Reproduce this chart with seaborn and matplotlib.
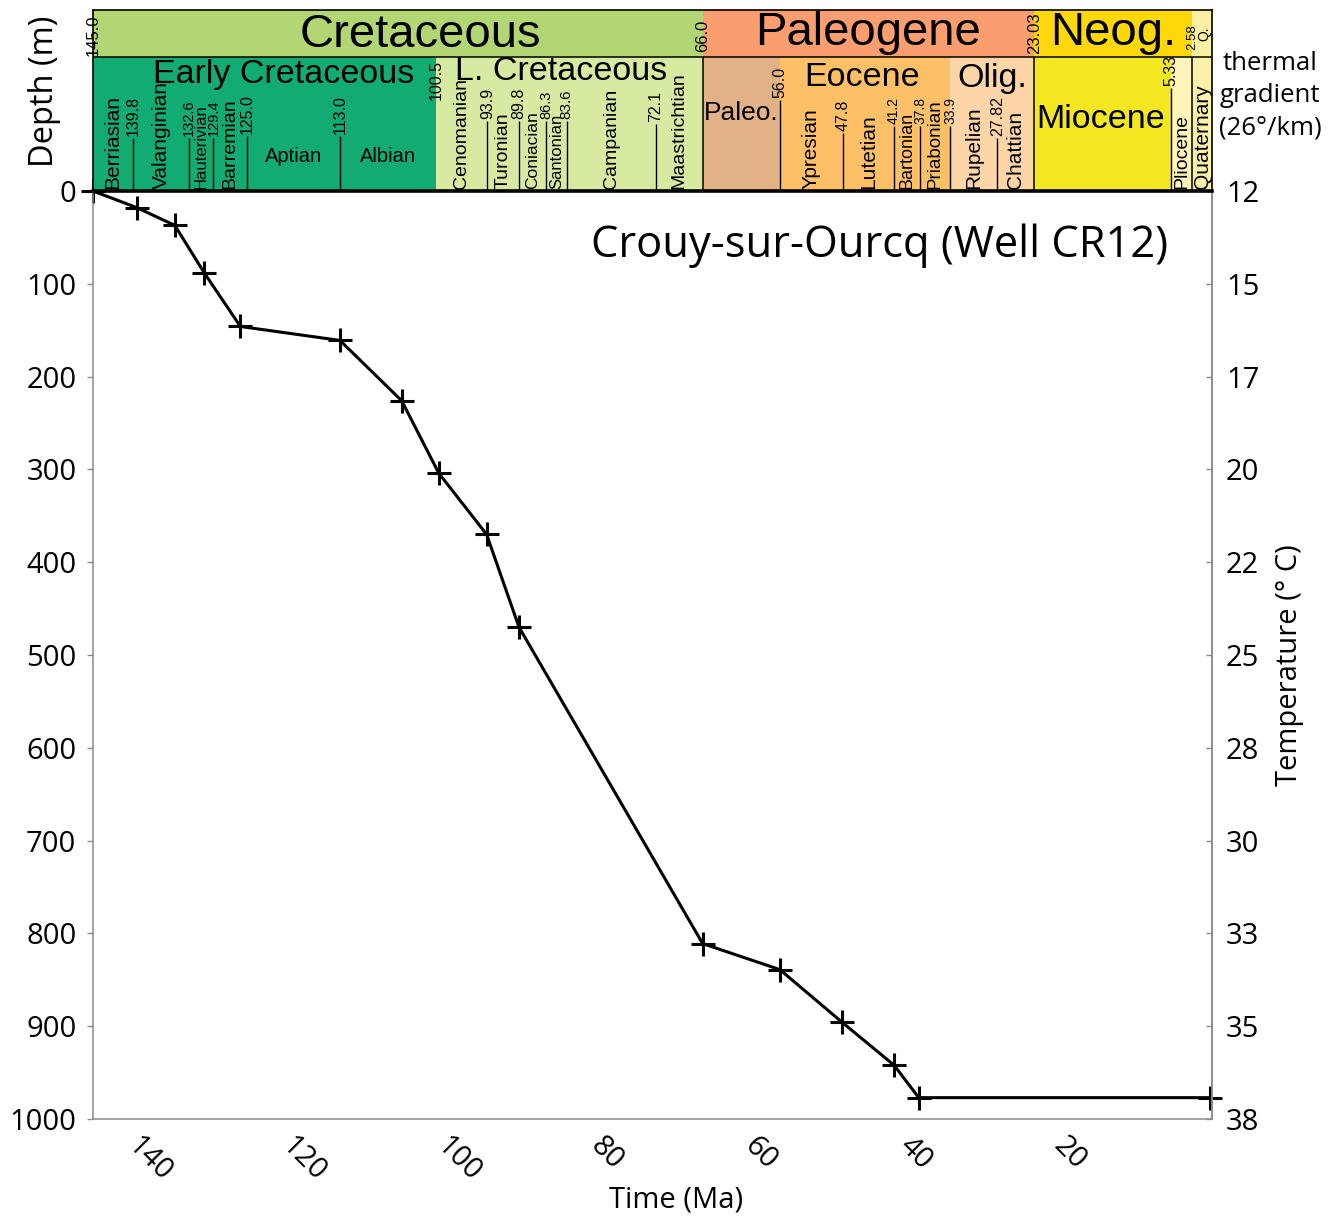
import numpy as np
import pandas as pd
import seaborn as sns
import matplotlib
matplotlib.use("Agg")
import matplotlib.pyplot as plt
import matplotlib.transforms as mtransforms

# ---------------- data ----------------
time_ma = [145.0, 139.3, 134.4, 130.6, 125.9, 113.0, 105.0, 100.2, 94.0, 89.8,
           66.0, 56.0, 47.9, 41.2, 38.0, 0.3]
depth_m = [0, 18, 37, 88, 146, 161, 226, 304, 370, 470,
           811, 839, 896, 942, 977, 977]

depth_ticks = [0, 100, 200, 300, 400, 500, 600, 700, 800, 900, 1000]
temp_labels = ["12", "15", "17", "20", "22", "25", "28", "30", "33", "35", "38"]
time_ticks = [140, 120, 100, 80, 60, 40, 20]

period_names = ["Cretaceous", "Paleogene", "Neog.", "Q."]
period_base = [145.0, 66.0, 23.03, 2.58]
period_end = [66.0, 23.03, 2.58, 0.0]
period_colors = ["#b3d674", "#fa9d6f", "#fed80a", "#faf0a4"]

epoch_names = ["Early Cretaceous", "L. Cretaceous", "Paleo.", "Eocene", "Olig.",
               "Miocene", "", ""]
epoch_base = [145.0, 100.5, 66.0, 56.0, 33.9, 23.03, 5.33, 2.58]
epoch_end = [100.5, 66.0, 56.0, 33.9, 23.03, 5.33, 2.58, 0.0]
epoch_colors = ["#12ab72", "#d7eaa2", "#e2b185", "#fdc067", "#fdd5a6",
                "#f3e722", "#fff5bb", "#fbf1a8"]

stage_names = ["Berriasian", "Valanginian", "Hauterivian", "Barremian", "Aptian",
               "Albian", "Cenomanian", "Turonian", "Coniacian", "Santonian",
               "Campanian", "Maastrichtian", "Ypresian", "Lutetian", "Bartonian",
               "Priabonian", "Rupelian", "Chattian", "Pliocene", "Quaternary"]
stage_base = [145.0, 139.8, 132.6, 129.4, 125.0, 113.0, 100.5, 93.9, 89.8, 86.3,
              83.6, 72.1, 56.0, 47.8, 41.2, 37.8, 33.9, 27.82, 5.33, 2.58]
stage_end = [139.8, 132.6, 129.4, 125.0, 113.0, 100.5, 93.9, 89.8, 86.3, 83.6,
             72.1, 66.0, 47.8, 41.2, 37.8, 33.9, 27.82, 23.03, 2.58, 0.0]

boundary_ages = [139.8, 132.6, 129.4, 125.0, 113.0, 100.5, 93.9, 89.8, 86.3, 83.6,
                 72.1, 56.0, 47.8, 41.2, 37.8, 33.9, 27.82, 5.33]
boundary_labels = ["139.8", "132.6", "129.4", "125.0", "113.0", "100.5", "93.9",
                   "89.8", "86.3", "83.6", "72.1", "56.0", "47.8", "41.2", "37.8",
                   "33.9", "27.82", "5.33"]
period_bound_ages = [145.0, 66.0, 23.03, 2.58]
period_bound_labels = ["145.0", "66.0", "23.03", "2.58"]

# ---------------- layout (pixels) / styles ----------------
W, H = 1336, 1216
AX_L, AX_R, AX_T, AX_B = 93, 1212, 191, 1119
HD_T = 10
ROW = 57

def hy(px):
    return (AX_T - px) / (AX_T - HD_T)

line_top_px = [138, 138, 138, 136, 136, 102, 121, 121, 121, 121,
               124, 100, 133, 126, 126, 126, 138, 88]
num_size = [11.5, 10.5, 10.5, 11.5, 11.5, 11.5, 11.5, 11.5, 10.5, 11,
            11.5, 11.5, 11.5, 10, 10, 10, 11.5, 11.5]
draw_line = [True] * 5 + [False] + [True] * 12
period_num_bottom_px = [56, 52, 54, 50]
period_num_size = [12, 12, 12, 9.5]
stage_fs = [15, 15, 12, 14, 14.5, 14.5, 14, 14, 12.5, 12,
            14, 14, 15, 15, 13, 13.5, 15, 15, 14, 15]

sns.set_theme(style="white")
plt.rcParams["font.family"] = ["Open Sans", "DejaVu Sans"]
plt.rcParams["text.color"] = "black"
plt.rcParams["axes.labelcolor"] = "black"
plt.rcParams["xtick.labelcolor"] = "black"
plt.rcParams["ytick.labelcolor"] = "black"
HFONT = ["Liberation Sans", "DejaVu Sans"]
GRAY = "#8a8a8a"

fig = plt.figure(figsize=(W / 100, H / 100), dpi=100)
ax = fig.add_axes([AX_L / W, (H - AX_B) / H, (AX_R - AX_L) / W, (AX_B - AX_T) / H])

df = pd.DataFrame({"time": time_ma, "depth": depth_m})
sns.lineplot(data=df, x="time", y="depth", sort=False, estimator=None, ax=ax,
             color="black", lw=2.2, marker="+", markersize=17,
             markeredgewidth=2.2, markeredgecolor="black", clip_on=False)

ax.set_xlim(145, 0)
ax.set_ylim(1000, 0)
ax.set_yticks(depth_ticks)
ax.set_yticklabels([str(d) for d in depth_ticks], fontsize=21)
ax.set_xticks(time_ticks)
ax.set_xticklabels([str(t) for t in time_ticks], fontsize=21)
for lab in ax.get_xticklabels():
    lab.set_rotation(-45)
    lab.set_rotation_mode("anchor")
    lab.set_ha("left")
    lab.set_va("center")
ax.tick_params(axis="x", direction="inout", length=14, width=1, color=GRAY, pad=9,
               labelcolor="black")
ax.tick_params(axis="y", direction="out", length=4, width=1, color=GRAY, pad=8,
               labelcolor="black")
for s in ["left", "bottom", "right"]:
    ax.spines[s].set_color(GRAY)
    ax.spines[s].set_linewidth(1.1)
ax.spines["top"].set_visible(False)

ax.set_xlabel("Time (Ma)", fontsize=21, color="black")
ax.xaxis.set_label_coords((676 - AX_L) / (AX_R - AX_L), -(1186 - AX_B) / (AX_B - AX_T))
ax.set_ylabel("Depth (m)", fontsize=23.5, color="black")
ax.yaxis.set_label_coords((61 - AX_L) / (AX_R - AX_L), (AX_B - 91) / (AX_B - AX_T))

ax.text((1168 - AX_L) / (AX_R - AX_L), (AX_B - 246) / (AX_B - AX_T),
        "Crouy-sur-Ourcq (Well CR12)", transform=ax.transAxes,
        ha="right", va="center", fontsize=31.3, color="black")

tax = ax.twinx()
tax.set_ylim(1000, 0)
tax.set_yticks(depth_ticks)
tax.set_yticklabels(temp_labels, fontsize=21)
tax.tick_params(axis="y", direction="in", length=4, width=1, color=GRAY, pad=10,
                labelcolor="black")
for s in ["left", "bottom", "top"]:
    tax.spines[s].set_visible(False)
tax.spines["right"].set_color(GRAY)
tax.spines["right"].set_linewidth(1.1)
tax.set_ylabel("Temperature (° C)", fontsize=21, color="black")
tax.yaxis.set_label_coords((1275 - AX_L) / (AX_R - AX_L), (AX_B - 665) / (AX_B - AX_T))

# ---------------- geological time-scale header ----------------
hax = fig.add_axes([AX_L / W, (H - AX_T) / H, (AX_R - AX_L) / W, (AX_T - HD_T) / H],
                   sharex=ax)
hax.set_ylim(0, 1)
hax.tick_params(length=0, labelbottom=False, labelleft=False)
hax.grid(False)
for s in ["left", "right", "top"]:
    hax.spines[s].set_color("black")
    hax.spines[s].set_linewidth(1.2)
hax.spines["bottom"].set_color("black")
hax.spines["bottom"].set_linewidth(2.6)

y_row = hy(ROW)
for b, e, c in zip(period_base, period_end, period_colors):
    hax.axvspan(e, b, ymin=y_row, ymax=1, facecolor=c, edgecolor="none")
for b, e, c in zip(epoch_base, epoch_end, epoch_colors):
    hax.axvspan(e, b, ymin=0, ymax=y_row, facecolor=c, edgecolor="none")
hax.axhline(y_row, color="black", lw=1.1)

hax.vlines([66.0, 23.03, 2.58], 0, y_row, colors="black", lw=1.1)
for a, lab, tp, dl, fs in zip(boundary_ages, boundary_labels, line_top_px,
                              draw_line, num_size):
    if dl:
        hax.vlines(a, 0, hy(tp), colors="black", lw=1.0)
    hax.text(a, hy(tp - 2), lab, rotation=90, ha="center", va="bottom",
             fontsize=fs, family=HFONT, color="black")
for a, lab, bp, fs in zip(period_bound_ages, period_bound_labels,
                          period_num_bottom_px, period_num_size):
    hax.text(a, hy(bp), lab, rotation=90, ha="center", va="bottom",
             fontsize=fs, family=HFONT, color="black")

period_style = [(23, 35, 34), (0, 33, 34), (0, 33, 34), (0, 34, 10)]
for n, b, e, (dx, ypx, fs) in zip(period_names, period_base, period_end, period_style):
    tr = mtransforms.offset_copy(hax.transData, fig=fig, x=dx, y=0, units="dots")
    if n == "Q.":
        hax.text((b + e) / 2 - 0.3, hy(ypx), n, rotation=90, ha="center", va="center",
                 fontsize=fs, family=HFONT, color="black")
    else:
        hax.text((b + e) / 2, hy(ypx), n, ha="center", va="center", fontsize=fs,
                 family=HFONT, transform=tr, color="black")

epoch_style = [(19, 75, 24.5), (-8, 72, 24.5), (0, 113, 19), (-3, 77, 24.5),
               (0, 78, 24.5), (-2, 120, 24.5), (0, 0, 10), (0, 0, 10)]
for n, b, e, (dx, ypx, fs) in zip(epoch_names, epoch_base, epoch_end, epoch_style):
    if not n:
        continue
    tr = mtransforms.offset_copy(hax.transData, fig=fig, x=dx, y=0, units="dots")
    hax.text((b + e) / 2, hy(ypx), n, ha="center", va="center", fontsize=fs,
             family=HFONT, transform=tr, color="black")

for n, b, e, fs in zip(stage_names, stage_base, stage_end, stage_fs):
    mid = (b + e) / 2
    if n in ("Aptian", "Albian"):
        hax.text(mid, hy(157), n, ha="center", va="center", fontsize=fs,
                 family=HFONT, color="black")
    else:
        hax.text(mid, hy(189), n, rotation=90, ha="center", va="bottom",
                 fontsize=fs, family=HFONT, color="black")

fig.text(1270 / W, 1 - 96 / H, "thermal\ngradient\n(26°/km)", ha="center",
         va="center", fontsize=18.5, linespacing=1.38, color="black")

fig.savefig("out.png", dpi=100)
